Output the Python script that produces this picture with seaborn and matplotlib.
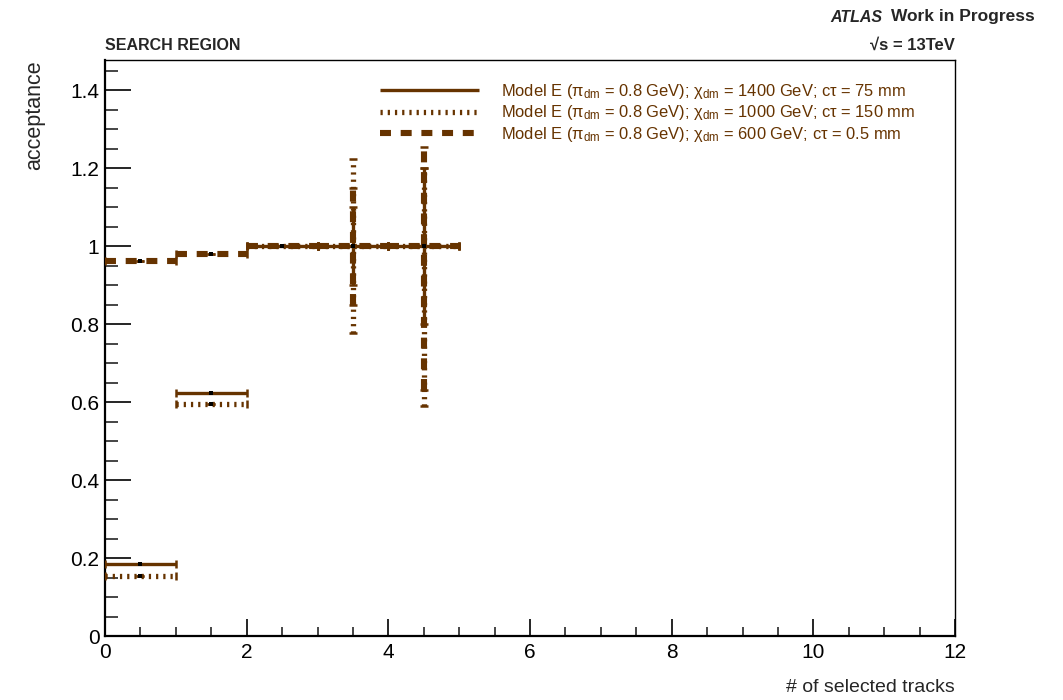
import numpy as np
import pandas as pd
import matplotlib
matplotlib.use("Agg")
import matplotlib.pyplot as plt
from matplotlib.lines import Line2D
from matplotlib.ticker import MultipleLocator, FormatStrFormatter
import seaborn as sns

# ---- data -------------------------------------------------------------
bin_edges = [0, 1, 2, 3, 4, 5]
bin_centers = [0.5, 1.5, 2.5, 3.5, 4.5]

acc_1400 = [0.184, 0.622, 1.0, 1.0, 1.0]
err_lo_1400 = [0.0, 0.0, 0.0, 0.10, 0.20]
err_hi_1400 = [0.0, 0.0, 0.0, 0.10, 0.20]

acc_1000 = [0.155, 0.595, 1.0, 1.0, 1.0]
err_lo_1000 = [0.0, 0.0, 0.0, 0.222, 0.41]
err_hi_1000 = [0.0, 0.0, 0.0, 0.222, 0.20]

acc_600 = [0.962, 0.979, 1.0, 1.0, 1.0]
err_lo_600 = [0.0, 0.0, 0.0, 0.15, 0.37]
err_hi_600 = [0.0, 0.0, 0.0, 0.15, 0.254]

labels = [
    r"Model E ($\mathregular{π_{dm}}$ = 0.8 GeV); $\mathregular{χ_{dm}}$ = 1400 GeV; cτ = 75 mm",
    r"Model E ($\mathregular{π_{dm}}$ = 0.8 GeV); $\mathregular{χ_{dm}}$ = 1000 GeV; cτ = 150 mm",
    r"Model E ($\mathregular{π_{dm}}$ = 0.8 GeV); $\mathregular{χ_{dm}}$ = 600 GeV; cτ = 0.5 mm",
]

# ---- style ------------------------------------------------------------
sns.set_theme(style="ticks")
plt.rcParams["font.family"] = ["Liberation Sans", "DejaVu Sans"]
plt.rcParams["mathtext.fontset"] = "custom"
plt.rcParams["mathtext.rm"] = "Liberation Sans"
plt.rcParams["mathtext.it"] = "Liberation Sans:italic"
plt.rcParams["mathtext.bf"] = "Liberation Sans:bold"
plt.rcParams["lines.scale_dashes"] = False

brown = "#663300"

W, H = 1063, 700
fig = plt.figure(figsize=(W / 100, H / 100), dpi=100)
ax = fig.add_axes([105 / W, 1 - 636 / H, (955 - 105) / W, (636 - 60) / H])

series = [
    (acc_1400, err_lo_1400, err_hi_1400, "-", 2.4, 3),
    (acc_1000, err_lo_1000, err_hi_1000, (0, (1.6, 3.6)), 3.8, 4),
    (acc_600, err_lo_600, err_hi_600, (0, (7.9, 7.0)), 4.4, 5),
]

x = np.array(bin_centers)
half = np.diff(bin_edges) / 2.0
handles = []
for vals, lo, hi, ls, lw, z in series:
    eb = ax.errorbar(x, vals, xerr=half, yerr=[lo, hi], fmt="none",
                     ecolor=brown, elinewidth=lw, capsize=2.6, capthick=1.8,
                     zorder=z)
    for col in eb.lines[2]:
        col.set_linestyle(ls)
        col.set_capstyle("butt")
    handles.append(Line2D([0], [0], color=brown, lw=lw, linestyle=ls,
                          solid_capstyle="butt", dash_capstyle="butt"))

# bin-centre markers
df = pd.DataFrame({
    "tracks": bin_centers * 3,
    "acceptance": acc_1400 + acc_1000 + acc_600,
})
sns.scatterplot(data=df, x="tracks", y="acceptance", ax=ax, color="black",
                marker="s", s=5, linewidth=0, zorder=6, legend=False)

# ---- axes -------------------------------------------------------------
ax.set_xlim(0, 12)
ax.set_ylim(0, 1.477)
ax.xaxis.set_major_locator(MultipleLocator(2))
ax.xaxis.set_minor_locator(MultipleLocator(0.5))
ax.yaxis.set_major_locator(MultipleLocator(0.2))
ax.yaxis.set_minor_locator(MultipleLocator(0.05))
ax.yaxis.set_major_formatter(FormatStrFormatter("%g"))
ax.xaxis.set_major_formatter(FormatStrFormatter("%g"))

ax.tick_params(axis="x", which="major", direction="in", length=12.4, width=1.2,
               labelsize=15, pad=5, colors="black")
ax.tick_params(axis="x", which="minor", direction="in", length=6.2, width=1.2)
ax.tick_params(axis="y", which="major", direction="in", length=18.4, width=1.2,
               labelsize=15, pad=4, colors="black")
ax.tick_params(axis="y", which="minor", direction="in", length=9.2, width=1.2)
for s in ["left", "bottom"]:
    ax.spines[s].set_linewidth(1.6)
    ax.spines[s].set_color("black")
for s in ["right", "top"]:
    ax.spines[s].set_linewidth(1.0)
    ax.spines[s].set_color("black")

ax.set_xlabel("# of selected tracks", fontsize=14, loc="right", labelpad=12)
ax.set_ylabel("acceptance", fontsize=15.5, loc="top", labelpad=18)

# ---- legend -----------------------------------------------------------
leg = ax.legend(handles, labels, loc="upper left",
                bbox_to_anchor=(380 / W, 1 - 82 / H), bbox_transform=fig.transFigure,
                frameon=False, fontsize=11.9, handlelength=6.0, handletextpad=1.3,
                labelspacing=0.15, borderpad=0, borderaxespad=0)
for t in leg.get_texts():
    t.set_color(brown)

# ---- header texts -----------------------------------------------------
fig.text(105 / W, 1 - 45 / H, "SEARCH REGION", fontsize=11.5, fontweight="bold",
         ha="left", va="center")
fig.text(1035 / W, 1 - 17 / H, "Work in Progress",
         fontsize=12.5, fontweight="bold", ha="right", va="center")
fig.text(882 / W, 1 - 17 / H, "ATLAS", fontsize=11.5, fontweight="bold",
         fontstyle="italic", ha="right", va="center")
fig.text(955 / W, 1 - 45 / H, "√s = 13TeV", fontsize=12, fontweight="bold",
         ha="right", va="center")

fig.savefig("out.png", dpi=100)
